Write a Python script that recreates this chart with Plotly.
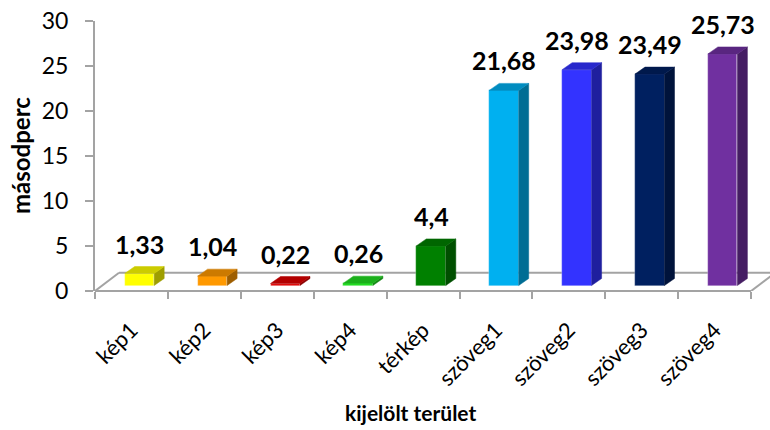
import numpy as np
import plotly.graph_objects as go

# ---- data -------------------------------------------------------------
categories = ["kép1", "kép2", "kép3", "kép4", "térkép",
              "szöveg1", "szöveg2", "szöveg3", "szöveg4"]
values = [1.33, 1.04, 0.22, 0.26, 4.4, 21.68, 23.98, 23.49, 25.73]
front_colors = ["#FFFF00", "#FF9900", "#E00000", "#22DD22", "#008000",
                "#00B0F0", "#3333FF", "#002060", "#7030A0"]
y_ticks = [0, 5, 10, 15, 20, 25, 30]

# ---- layout geometry ----------------------------------------------------
W, H = 770, 430
M_L, M_R, M_T, M_B = 95, 0, 21, 139
plot_w = W - M_L - M_R
plot_h = H - M_T - M_B
PX_PER_CAT = 72.9
PX_PER_UNIT = plot_h / 30.0
x_min = -0.5
x_max = x_min + plot_w / PX_PER_CAT

# pseudo-3D parameters, expressed in axis units
bar_w = 29.5 / PX_PER_CAT          # width of the front face
shift_x = 8.0 / PX_PER_CAT         # bars sit halfway into the floor depth
base = 5.5 / PX_PER_UNIT
dx = 10.0 / PX_PER_CAT             # bar depth, horizontal part
dy = 7.0 / PX_PER_UNIT             # bar depth, vertical part
floor_dx = 24.0 / PX_PER_CAT       # floor depth
floor_dy = 18.2 / PX_PER_UNIT

AXIS_GREY = "#A3A3A3"
FONT = "Lato"


def shade(hex_color, k):
    h = hex_color.lstrip("#")
    r, g, b = (int(h[i:i + 2], 16) for i in (0, 2, 4))
    return "rgb({},{},{})".format(int(r * k), int(g * k), int(b * k))


def fmt(v):
    return "{:g}".format(v).replace(".", ",")


xc = np.arange(len(categories)) + shift_x

fig = go.Figure()

# front faces
fig.add_trace(go.Bar(
    x=xc, y=values, base=base, width=bar_w,
    marker=dict(color=front_colors, line=dict(width=0.6, color="rgba(255,255,255,0.45)")),
    hoverinfo="skip", showlegend=False,
))

# top and side faces
for c, v, col in zip(xc, values, front_colors):
    x0, x1 = c - bar_w / 2, c + bar_w / 2
    yt = base + v
    top_col = shade(col, 0.80)
    side_col = shade(col, 0.62)
    fig.add_trace(go.Scatter(
        x=[x1, x1, x1 + dx, x1 + dx, x1],
        y=[base, yt, yt + dy, base + dy, base],
        fill="toself", fillcolor=side_col, mode="lines",
        line=dict(color=side_col, width=0.5),
        hoverinfo="skip", showlegend=False,
    ))
    fig.add_trace(go.Scatter(
        x=[x0, x1, x1 + dx, x0 + dx, x0],
        y=[yt, yt, yt + dy, yt + dy, yt],
        fill="toself", fillcolor=top_col, mode="lines",
        line=dict(color=top_col, width=0.5),
        hoverinfo="skip", showlegend=False,
    ))

# floor outline
line = dict(color=AXIS_GREY, width=2)
shapes = [
    dict(type="line", xref="x", yref="paper", x0=-0.5, x1=len(categories) - 0.5,
         y0=0, y1=0, line=line, layer="below"),
    dict(type="line", xref="x", yref="y", x0=-0.5, y0=0,
         x1=-0.5 + floor_dx, y1=floor_dy, line=line, layer="below"),
    dict(type="line", xref="x", yref="y", x0=-0.5 + floor_dx, y0=floor_dy,
         x1=len(categories) - 0.5 + floor_dx, y1=floor_dy, line=line, layer="below"),
    dict(type="line", xref="x", yref="y", x0=len(categories) - 0.5, y0=0,
         x1=len(categories) - 0.5 + floor_dx, y1=floor_dy, line=line, layer="below"),
]

# value labels
annotations = []
for c, v in zip(xc, values):
    annotations.append(dict(
        x=c, y=base + v + dy, xref="x", yref="y", text="<b>" + fmt(v) + "</b>",
        showarrow=False, yanchor="bottom", xanchor="center", yshift=6,
        font=dict(family=FONT, size=25, color="#000000"),
    ))

# axis titles
annotations.append(dict(
    x=(410 - M_L) / plot_w, y=(M_T + plot_h - 413) / plot_h, xref="paper", yref="paper",
    text="<b>kijelölt terület</b>", showarrow=False, xanchor="center", yanchor="middle",
    font=dict(family=FONT, size=21, color="#000000"),
))
annotations.append(dict(
    x=(20 - M_L) / plot_w, y=0.5, xref="paper", yref="paper",
    text="<b>másodperc</b>", showarrow=False, xanchor="center", yanchor="middle",
    textangle=-90, font=dict(family=FONT, size=24, color="#000000"),
))

fig.update_layout(
    width=W, height=H,
    margin=dict(l=M_L, r=M_R, t=M_T, b=M_B, pad=0),
    paper_bgcolor="white", plot_bgcolor="white",
    bargap=0, showlegend=False,
    shapes=shapes, annotations=annotations,
    xaxis=dict(
        range=[x_min, x_max], showgrid=False, zeroline=False, showline=False,
        tickmode="array", tickvals=list(range(len(categories))), ticktext=categories,
        ticks="", tickangle=-45, ticklabelstandoff=21,
        tickfont=dict(family=FONT, size=22, color="#000000"),
        minor=dict(tickmode="array", tickvals=[i - 0.5 for i in range(len(categories) + 1)],
                   ticks="outside", ticklen=7, tickwidth=1.5, tickcolor=AXIS_GREY,
                   showgrid=False),
    ),
    yaxis=dict(
        range=[0, 30], showgrid=False, zeroline=False,
        showline=True, linecolor=AXIS_GREY, linewidth=2,
        tickmode="array", tickvals=y_ticks,
        ticks="outside", ticklen=8, tickwidth=1.5, tickcolor=AXIS_GREY,
        ticklabelstandoff=12,
        tickfont=dict(family=FONT, size=23, color="#000000"),
    ),
)

fig.write_html("out.html")
